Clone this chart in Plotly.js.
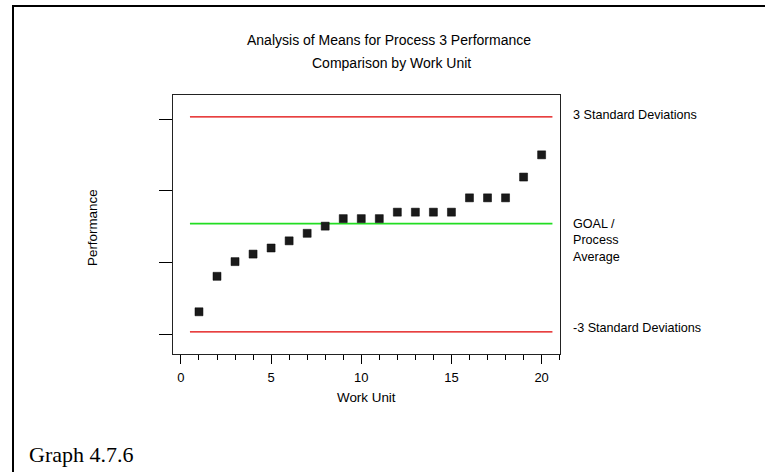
<!DOCTYPE html>
<html>
<head>
<meta charset="utf-8">
<script src="https://cdn.plot.ly/plotly-3.0.1.min.js"></script>
<style>
html,body{margin:0;padding:0;background:#fff;}
#chart{width:765px;height:472px;}
</style>
</head>
<body>
<div id="chart"></div>
<script>
// ---- data ----
const workUnits = [1,2,3,4,5,6,7,8,9,10,11,12,13,14,15,16,17,18,19,20];
const performance = [3.1,8.05,10.1,11.15,12.0,13.0,14.05,15.05,16.1,16.1,16.1,17.0,17.0,17.0,17.0,19.0,19.0,19.0,21.9,25.0];
const upperLimit = 30.3;
const lowerLimit = 0.3;
const processAverage = 15.4;
const limitSpan = [0.5, 20.6];
const xTickVals = [0,5,10,15,20];
const yTickVals = [0,10,20,30];

const titleLine1 = 'Analysis of Means for Process 3 Performance';
const titleLine2 = 'Comparison by Work Unit';
const xTitle = 'Work Unit';
const yTitle = 'Performance';
const upperLabel = '3 Standard Deviations';
const avgLabel = 'GOAL /<br>Process<br>Average';
const lowerLabel = '-3 Standard Deviations';
const caption = 'Graph 4.7.6';

// ---- layout helpers (pixel -> paper) ----
const L = 173, R = 560, T = 95, B = 354, W = 765, H = 472;
const px = v => (v - L) / (R - L);
const py = v => (B - v) / (B - T);
const font = 'Arial, "Liberation Sans", sans-serif';

const traces = [
  {x: limitSpan, y: [upperLimit, upperLimit], mode: 'lines', line: {color: '#e00000', width: 1.4}, hoverinfo: 'skip'},
  {x: limitSpan, y: [lowerLimit, lowerLimit], mode: 'lines', line: {color: '#e00000', width: 1.4}, hoverinfo: 'skip'},
  {x: limitSpan, y: [processAverage, processAverage], mode: 'lines', line: {color: '#22dd22', width: 1.6}, hoverinfo: 'skip'},
  {x: workUnits, y: performance, mode: 'markers',
   marker: {symbol: 'square', size: 8, color: '#1a1a1a', line: {color: '#000', width: 0.5}}}
];

const ann = (text, x, y, opts) => Object.assign({
  text: text, xref: 'paper', yref: 'paper', x: px(x), y: py(y),
  xanchor: 'center', yanchor: 'middle',
  showarrow: false, font: {family: font, size: 12.6, color: '#000'}
}, opts || {});

const layout = {
  width: W, height: H,
  margin: {l: L, r: W - R, t: T, b: H - B, pad: 0},
  paper_bgcolor: '#fff', plot_bgcolor: '#fff',
  showlegend: false,
  font: {family: font, size: 13, color: '#000'},
  xaxis: {
    range: [-0.44, 21.02], tickvals: xTickVals, ticks: 'outside', ticklen: 9, tickcolor: '#000', tickwidth: 1,
    minor: {dtick: 1, tick0: 0, ticks: 'outside', ticklen: 5, tickcolor: '#000', showgrid: false},
    showgrid: false, zeroline: false, showline: true, linecolor: '#222', linewidth: 1, mirror: true,
    ticklabelstandoff: 2,
    tickfont: {family: font, size: 13, color: '#000'}
  },
  yaxis: {
    range: [-2.79, 33.35], tickvals: yTickVals, ticks: 'outside', ticklen: 13, tickcolor: '#000', tickwidth: 1,
    showticklabels: false, showgrid: false, zeroline: false, showline: true, linecolor: '#222', linewidth: 1, mirror: true
  },
  annotations: [
    ann(titleLine1, 389, 40, {font: {family: font, size: 14, color: '#000'}}),
    ann(titleLine2, 391, 63, {font: {family: font, size: 14, color: '#000'}}),
    ann(xTitle, 366, 397, {font: {family: font, size: 13.4, color: '#000'}}),
    ann(yTitle, 92, 228, {textangle: -90, font: {family: font, size: 13.4, color: '#000'}}),
    ann(upperLabel, 571, 115, {xanchor: 'left'}),
    ann(avgLabel, 571, 240, {xanchor: 'left', align: 'left'}),
    ann(lowerLabel, 571, 328, {xanchor: 'left'}),
    ann(caption, 27, 454, {xanchor: 'left', font: {family: '"Times New Roman", "Liberation Serif", serif', size: 22, color: '#000'}})
  ],
  shapes: [
    {type: 'line', xref: 'paper', yref: 'paper', x0: px(13), x1: px(13), y0: py(5), y1: py(H + 2), line: {color: '#000', width: 2}},
    {type: 'line', xref: 'paper', yref: 'paper', x0: px(12), x1: px(W + 2), y0: py(6), y1: py(6), line: {color: '#000', width: 2}}
  ]
};

Plotly.newPlot('chart', traces, layout, {staticPlot: true, displayModeBar: false});
</script>
</body>
</html>
